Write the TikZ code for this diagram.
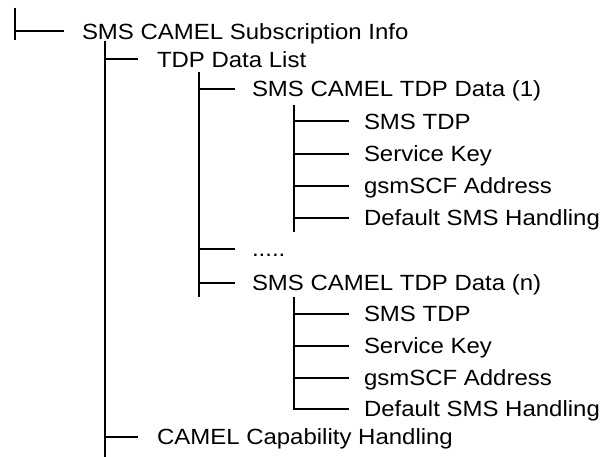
\documentclass[tikz,border=0pt]{standalone}
\usepackage{fontspec}
\setmainfont[FakeStretch=1.09]{Liberation Sans}
\begin{document}
\begin{tikzpicture}[x=1pt,y=-1pt,line width=2pt,
  lbl/.style={anchor=west,inner xsep=#1,inner ysep=0pt,text height=15.75pt,text depth=0pt,
    font=\fontsize{22}{26}\selectfont}]
\useasboundingbox (0,0) rectangle (603,457);
% spines
\coordinate (t0) at (15,8);   \coordinate (b0) at (15,40);
\coordinate (t1) at (105,41); \coordinate (b1) at (105,457);
\coordinate (t2) at (199,72); \coordinate (b2) at (199,297);
\coordinate (ta) at (294,105); \coordinate (ba) at (294,232);
\coordinate (tb) at (294,297); \coordinate (bb) at (294,409);
% labels
\node[lbl=17pt] (n0) at (64,31.5) {SMS CAMEL Subscription Info};
\node[lbl=18pt] (n1) at (138,59.3) {TDP Data List};
\node[lbl=16pt] (n2) at (235,89) {SMS CAMEL TDP Data (1)};
\node[lbl=14pt] (n3) at (349,121.5) {SMS TDP};
\node[lbl=14pt] (n4) at (349,154) {Service Key};
\node[lbl=14pt] (n5) at (349,185.7) {gsmSCF Address};
\node[lbl=14pt] (n6) at (349,218) {Default SMS Handling};
\node[lbl=16pt] (n7) at (235,249) {.....};
\node[lbl=16pt] (n8) at (235,282.7) {SMS CAMEL TDP Data (n)};
\node[lbl=14pt] (n9) at (349,314) {SMS TDP};
\node[lbl=14pt] (n10) at (349,346) {Service Key};
\node[lbl=14pt] (n11) at (349,378) {gsmSCF Address};
\node[lbl=14pt] (n12) at (349,409) {Default SMS Handling};
\node[lbl=18pt] (n13) at (138,437) {CAMEL Capability Handling};
% lines
\draw (t0) -- (b0);
\draw (t0 |- n0.west) -- (n0.west);
\draw (t1) -- (b1);
\foreach \n in {n1,n13} \draw (t1 |- \n.west) -- (\n.west);
\draw (t2) -- (b2);
\foreach \n in {n2,n7,n8} \draw (t2 |- \n.west) -- (\n.west);
\draw (ta) -- (ba);
\foreach \n in {n3,n4,n5,n6} \draw (ta |- \n.west) -- (\n.west);
\draw (tb) -- (bb) -- (n12.west);
\foreach \n in {n9,n10,n11} \draw (tb |- \n.west) -- (\n.west);
\end{tikzpicture}
\end{document}
